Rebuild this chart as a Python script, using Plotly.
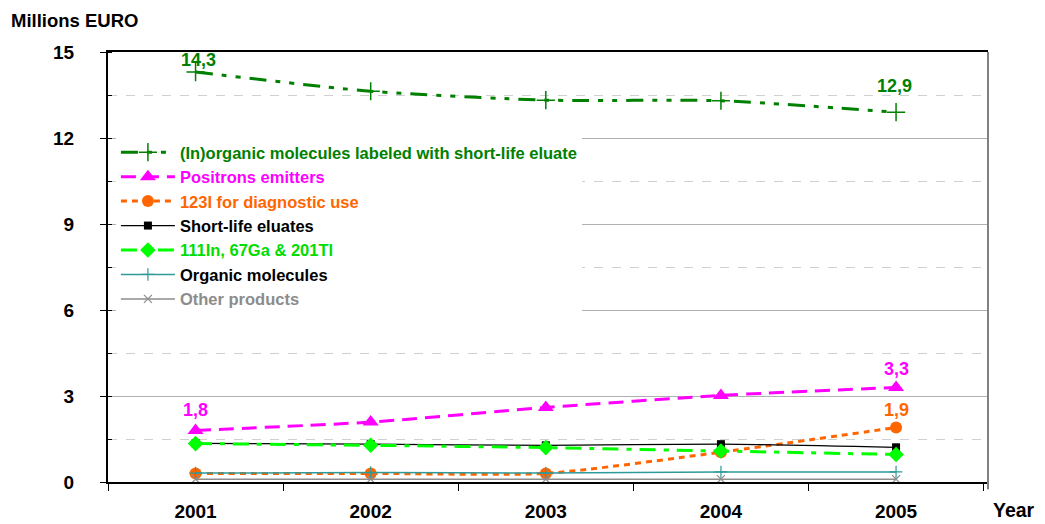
import plotly.graph_objects as go

years = [2001, 2002, 2003, 2004, 2005]
year_labels = ["2001", "2002", "2003", "2004", "2005"]

inorganic_labeled = [14.3, 13.63, 13.32, 13.3, 12.9]
positrons = [1.8, 2.09, 2.6, 3.02, 3.3]
i123_diagnostic = [0.3, 0.3, 0.3, 1.04, 1.9]
short_life_eluates = [1.35, 1.32, 1.28, 1.32, 1.21]
in_ga_tl = [1.34, 1.28, 1.2, 1.08, 0.96]
organic_molecules = [0.31, 0.33, 0.31, 0.35, 0.35]
other_products = [0.1, 0.1, 0.1, 0.1, 0.1]

y_ticks = [0, 3, 6, 9, 12, 15]

FONT = "Liberation Sans, Arial, sans-serif"

series = [
    dict(name="(In)organic molecules labeled with short-life eluate", y=inorganic_labeled,
         color="#008000", text="#008000", width=3, dash="17px,9px,5px,9px,5px,9px",
         symbol="cross-thin", size=13, mlw=1.5),
    dict(name="Positrons emitters", y=positrons,
         color="#FF00FF", text="#FF00FF", width=3, dash="15px,8px",
         symbol="triangle-up", size=14, mlw=0),
    dict(name="123I for diagnostic use", y=i123_diagnostic,
         color="#FF6600", text="#FF6600", width=3, dash="6px,5px",
         symbol="circle", size=12, mlw=0),
    dict(name="Short-life eluates", y=short_life_eluates,
         color="#000000", text="#000000", width=1.3, dash="solid",
         symbol="square", size=8, mlw=0),
    dict(name="111In, 67Ga & 201Tl", y=in_ga_tl,
         color="#00FF00", text="#00DD00", width=3, dash="16px,8px,5px,8px",
         symbol="diamond", size=12, mlw=0),
    dict(name="Organic molecules", y=organic_molecules,
         color="#2E9A9A", text="#000000", width=1.5, dash="solid",
         symbol="cross-thin", size=9, mlw=1.2),
    dict(name="Other products", y=other_products,
         color="#8C8C8C", text="#8C8C8C", width=1.5, dash="solid",
         symbol="x-thin", size=8, mlw=1.2),
]

fig = go.Figure()
for s in series:
    mline = dict(width=s["mlw"], color=s["color"])
    fig.add_trace(go.Scatter(
        x=years, y=s["y"], mode="lines+markers",
        name=f"<span style='color:{s['text']}'>{s['name']}</span>",
        line=dict(color=s["color"], width=s["width"], dash=s["dash"],
                  shape="spline", smoothing=0.6),
        marker=dict(symbol=s["symbol"], size=s["size"], color=s["color"], line=mline),
    ))

# value labels on first / last points
def fmt(v):
    return f"{v:.1f}".replace(".", ",")

labels = [
    (years[0], inorganic_labeled[0], "#008000", 12, 3),
    (years[-1], inorganic_labeled[-1], "#008000", 26, -2),
    (years[0], positrons[0], "#FF00FF", 20, 0),
    (years[-1], positrons[-1], "#FF00FF", 18, 0),
    (years[-1], i123_diagnostic[-1], "#FF6600", 18, 0),
]
for x, v, c, ys, xs in labels:
    fig.add_annotation(x=x, y=v, text=fmt(v), showarrow=False, yshift=ys, xshift=xs,
                       font=dict(family=FONT, size=18, color=c, weight="bold"))

fig.add_annotation(xref="paper", yref="paper", x=-0.1125, y=1.074, xanchor="left",
                   yanchor="middle", text="Millions EURO", showarrow=False,
                   font=dict(family=FONT, size=18.5, color="#000000", weight="bold"))
fig.add_annotation(xref="paper", yref="paper", x=1.0295, y=-0.066, xanchor="center",
                   yanchor="middle", text="Year", showarrow=False,
                   font=dict(family=FONT, size=19.5, color="#000000", weight="bold"))

# right-hand frame edge
fig.add_shape(type="line", xref="paper", yref="paper", x0=1, x1=1, y0=-0.017, y1=1,
              line=dict(color="#808080", width=2))

fig.update_layout(
    width=1045, height=524,
    margin=dict(l=108, r=57, t=52, b=42, autoexpand=False),
    plot_bgcolor="white", paper_bgcolor="white",
    font=dict(family=FONT, color="#000000"),
    showlegend=True,
    legend=dict(x=0.009, y=0.807, xanchor="left", yanchor="top",
                bgcolor="white", borderwidth=0,
                itemwidth=54,
                font=dict(family=FONT, size=16.5, weight="bold")),
    xaxis=dict(range=[2000.5, 2005.525], tickmode="array", tickvals=years,
               ticktext=year_labels, ticks="", showgrid=False, zeroline=False,
               showline=True, linecolor="#000000", linewidth=2, mirror=True,
               ticklabelstandoff=11, automargin=False,
               tickfont=dict(family=FONT, size=19, weight="bold"),
               minor=dict(tickmode="linear", tick0=2000.5, dtick=1, ticks="outside",
                          ticklen=7, tickcolor="#000000", tickwidth=1, showgrid=False)),
    yaxis=dict(range=[0, 15], tickmode="array", tickvals=y_ticks, ticks="outside",
               ticklen=6, tickcolor="#000000", showgrid=True, gridcolor="#B0B0B0",
               gridwidth=1, zeroline=False, showline=True, linecolor="#000000",
               linewidth=2, ticklabelstandoff=22, automargin=False,
               tickfont=dict(family=FONT, size=19, weight="bold"),
               minor=dict(tickmode="linear", tick0=0, dtick=1.5, ticks="inside",
                          ticklen=4, tickcolor="#000000", showgrid=True,
                          gridcolor="#D0D0D0", griddash="dash", gridwidth=1)),
)

fig.write_html("out.html")
